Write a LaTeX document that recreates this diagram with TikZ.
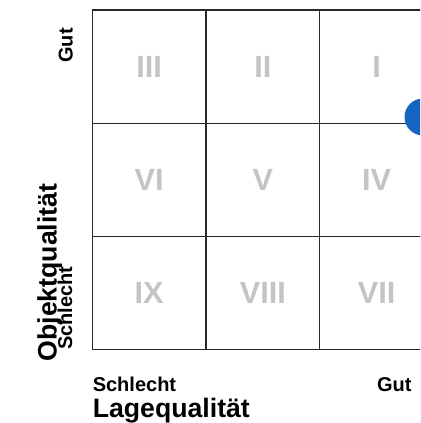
\documentclass[tikz,border=0pt]{standalone}
\usepackage{fontspec}
\setmainfont{Liberation Sans}
\newfontfamily\heavyfont{Liberation Sans Bold}
\usepackage{graphicx}
\usepackage{tikz}
\usetikzlibrary{positioning}
\definecolor{numgray}{RGB}{196, 196, 196}
\definecolor{gridline}{RGB}{40, 40, 40}
\definecolor{dotblue}{RGB}{21, 101, 192}

\tikzset{
  cell/.style={draw=gridline, line width=0.8pt, minimum width=85.1pt, minimum height=85pt,
               inner sep=0pt, text=numgray, font=\heavyfont\fontsize{23}{23}\selectfont},
  small label/.style={inner sep=0pt, font=\heavyfont\fontsize{15}{15}\selectfont},
  axis label/.style={inner sep=0pt, font=\heavyfont\fontsize{20}{20}\selectfont}
}

\begin{document}
\begin{tikzpicture}[x=0.75pt, y=0.75pt]
            \useasboundingbox (0,0) rectangle (420,423);
            \clip (0,0) rectangle (420,423);
            % Matrix cells
            \foreach \num/\cx/\cy in {III/149.1/356.3,   II/262.9/356.3,   I/376.6/356.3,
                                      VI/149.1/243.0,   V/262.9/243.0,   IV/376.6/243.0,
                                      IX/149.1/129.7, VIII/262.9/129.7, VII/376.6/129.7}
              \node[cell] (cell\num) at (\cx, \cy) {\num};
            % Marker
            \node[circle, fill=dotblue, inner sep=0pt, minimum size=27.75pt] (pin) at (423.0, 306.0) {};
            % Lagequalitaet (x axis)
            \node[small label, anchor=base west] (xlow)  at ( 92.5, 31.3) {Schlecht};
            \node[small label, anchor=base east] (xhigh) at (411.7, 31.3) {Gut};
            \node[axis label,  anchor=base west] (xaxis) at ( 92.5,  5.0) {Lagequalität};
            % Objektqualitaet (y axis)
            \node[small label, anchor=north east] (yhigh) at (73.0, 395.0) {\rotatebox{90}{Gut}};
            \node[small label, anchor=south east] (ylow)  at (72.5,  73.0) {\rotatebox{90}{Schlecht}};
            \node[axis label,  anchor=south east] (yaxis) at (62.5,  61.3) {\rotatebox{90}{Objektqualität}};
\end{tikzpicture}
\end{document}
